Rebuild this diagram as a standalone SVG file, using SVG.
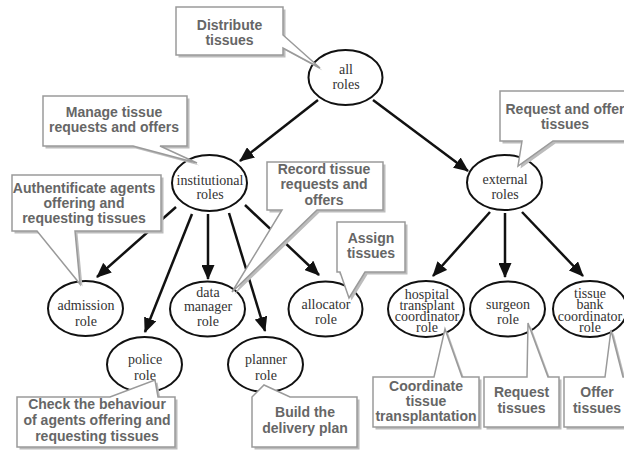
<svg xmlns="http://www.w3.org/2000/svg" xmlns:xlink="http://www.w3.org/1999/xlink" width="624" height="451" viewBox="0 0 624 451">
<style>
.role{fill:#fff;stroke:#111;stroke-width:2}
.rt{font-family:"Liberation Serif","Times New Roman",serif;font-size:14px;fill:#333;text-anchor:middle}
.edge{stroke:#111;stroke-width:2.5;fill:none;marker-end:url(#ah)}
.box{fill:#fff;stroke:#9a9a9a;stroke-width:1.5;stroke-linejoin:miter}
.sh{fill:#bcbcbc;stroke:none}
.ct{font-family:"Liberation Sans",Arial,sans-serif;font-weight:bold;font-size:14px;fill:#666;text-anchor:middle}
</style>
<defs>
<marker id="ah" markerUnits="userSpaceOnUse" markerWidth="15" markerHeight="13" refX="14" refY="6.5" orient="auto">
<path d="M0,0 L15,6.5 L0,13 Z" fill="#111"/>
</marker>
<path id="p_dist" d="M176,7 H283 V35 L320,68 L283,48 V55 H176 Z"/>
<path id="p_manage" d="M43,96 H187 V146 H160 L197,163 L133,146 H43 Z"/>
<path id="p_auth" d="M12,175 H161 V231 H75 L80,284 L37,231 H12 Z"/>
<path id="p_record" d="M267,162 H383 V210 H317 L232,292 L282,210 H267 Z"/>
<path id="p_assign" d="M337,222 H405 V272 H365 L349,298 L340,272 H337 Z"/>
<path id="p_reqoff" d="M500,91 H632 V141 H553 L518,166 L522,141 H500 Z"/>
<path id="p_check" d="M17,397 H110 L155,380 L158,397 H175 V447 H17 Z"/>
<path id="p_build" d="M252,397 L264,385 L290,397 H357 V447 H252 Z"/>
<path id="p_coord" d="M373,377 H434 L445,329 L462,377 H479 V427 H373 Z"/>
<path id="p_request" d="M484,377 H527 L528,323 L548,377 H559 V427 H484 Z"/>
<path id="p_offer" d="M564,377 H605 L611,330 L623,377 H632 V427 H564 Z"/>
</defs>
<rect width="624" height="451" fill="#fff"/>

<g id="connectors">
<line class="edge" x1="318" y1="100" x2="240" y2="161"/>
<line class="edge" x1="373" y1="100" x2="468" y2="171"/>
<line class="edge" x1="176" y1="207" x2="97" y2="277"/>
<line class="edge" x1="192" y1="214" x2="145" y2="332"/>
<line class="edge" x1="208" y1="214" x2="208" y2="279"/>
<line class="edge" x1="229" y1="213" x2="265" y2="331"/>
<line class="edge" x1="245" y1="205" x2="319" y2="275"/>
<line class="edge" x1="490" y1="212" x2="433" y2="276"/>
<line class="edge" x1="505" y1="213" x2="505" y2="277"/>
<line class="edge" x1="522" y1="212" x2="583" y2="276"/>
</g>

<g id="all-roles"><ellipse class="role" cx="345.5" cy="77.5" rx="37" ry="27.5"/><text class="rt" x="346" y="74">all</text><text class="rt" x="346" y="89">roles</text></g>
<g id="institutional-roles"><ellipse class="role" cx="209.5" cy="183" rx="37.5" ry="28"/><text class="rt" x="210" y="185">institutional</text><text class="rt" x="210" y="199">roles</text></g>
<g id="external-roles"><ellipse class="role" cx="504.5" cy="182.5" rx="37.5" ry="27.5"/><text class="rt" x="505" y="184">external</text><text class="rt" x="505" y="199">roles</text></g>
<g id="admission-role"><ellipse class="role" cx="85.5" cy="308.5" rx="37.5" ry="27.5"/><text class="rt" x="86" y="310">admission</text><text class="rt" x="86" y="326">role</text></g>
<g id="data-manager-role"><ellipse class="role" cx="207.5" cy="309" rx="37.5" ry="27.5"/><text class="rt" x="208" y="297">data</text><text class="rt" x="208" y="311">manager</text><text class="rt" x="208" y="326">role</text></g>
<g id="allocator-role"><ellipse class="role" cx="325.5" cy="309" rx="37" ry="27.5"/><text class="rt" x="326" y="309">allocator</text><text class="rt" x="326" y="324">role</text></g>
<g id="police-role"><ellipse class="role" cx="144.5" cy="364.5" rx="37.5" ry="27.5"/><text class="rt" x="145" y="364">police</text><text class="rt" x="145" y="380">role</text></g>
<g id="planner-role"><ellipse class="role" cx="265.5" cy="364.5" rx="37.5" ry="27.5"/><text class="rt" x="266" y="364">planner</text><text class="rt" x="266" y="380">role</text></g>
<g id="hospital-transplant-coordinator-role"><ellipse class="role" cx="426" cy="309" rx="38" ry="28"/><text class="rt" x="427" y="299">hospital</text><text class="rt" x="427" y="310">transplant</text><text class="rt" x="427" y="321">coordinator</text><text class="rt" x="427" y="332">role</text></g>
<g id="surgeon-role"><ellipse class="role" cx="507.5" cy="309" rx="37.5" ry="27.5"/><text class="rt" x="508" y="309">surgeon</text><text class="rt" x="508" y="324">role</text></g>
<g id="tissue-bank-coordinator-role"><ellipse class="role" cx="590" cy="309" rx="37" ry="28"/><text class="rt" x="590" y="298">tissue</text><text class="rt" x="590" y="309">bank</text><text class="rt" x="590" y="321">coordinator</text><text class="rt" x="590" y="332">role</text></g>

<g id="note-distribute"><use xlink:href="#p_dist" class="sh" transform="translate(2.5,2.5)"/><use xlink:href="#p_dist" class="box"/><text class="ct" x="229.5" y="29.5">Distribute</text><text class="ct" x="229.5" y="45">tissues</text></g>
<g id="note-manage"><use xlink:href="#p_manage" class="sh" transform="translate(2.5,2.5)"/><use xlink:href="#p_manage" class="box"/><text class="ct" x="114" y="117">Manage tissue</text><text class="ct" x="114" y="132">requests and offers</text></g>
<g id="note-authentificate"><use xlink:href="#p_auth" class="sh" transform="translate(2.5,2.5)"/><use xlink:href="#p_auth" class="box"/><text class="ct" x="84" y="193">Authentificate agents</text><text class="ct" x="84" y="208">offering and</text><text class="ct" x="84" y="223">requesting tissues</text></g>
<g id="note-record"><use xlink:href="#p_record" class="sh" transform="translate(2.5,2.5)"/><use xlink:href="#p_record" class="box"/><text class="ct" x="324" y="174">Record tissue</text><text class="ct" x="324" y="189">requests and</text><text class="ct" x="324" y="205">offers</text></g>
<g id="note-assign"><use xlink:href="#p_assign" class="sh" transform="translate(2.5,2.5)"/><use xlink:href="#p_assign" class="box"/><text class="ct" x="371" y="243">Assign</text><text class="ct" x="371" y="258">tissues</text></g>
<g id="note-request-offer"><use xlink:href="#p_reqoff" class="sh" transform="translate(2.5,2.5)"/><use xlink:href="#p_reqoff" class="box"/><text class="ct" x="565" y="114">Request and offer</text><text class="ct" x="565" y="129">tissues</text></g>
<g id="note-check"><use xlink:href="#p_check" class="sh" transform="translate(2.5,2.5)"/><use xlink:href="#p_check" class="box"/><text class="ct" x="97" y="409">Check the behaviour</text><text class="ct" x="97" y="425">of agents offering and</text><text class="ct" x="97" y="441">requesting tissues</text></g>
<g id="note-build"><use xlink:href="#p_build" class="sh" transform="translate(2.5,2.5)"/><use xlink:href="#p_build" class="box"/><text class="ct" x="305" y="417">Build the</text><text class="ct" x="305" y="433">delivery plan</text></g>
<g id="note-coordinate"><use xlink:href="#p_coord" class="sh" transform="translate(2.5,2.5)"/><use xlink:href="#p_coord" class="box"/><text class="ct" x="426" y="391">Coordinate</text><text class="ct" x="426" y="406">tissue</text><text class="ct" x="426" y="421">transplantation</text></g>
<g id="note-request"><use xlink:href="#p_request" class="sh" transform="translate(2.5,2.5)"/><use xlink:href="#p_request" class="box"/><text class="ct" x="521.5" y="397">Request</text><text class="ct" x="521.5" y="413">tissues</text></g>
<g id="note-offer"><use xlink:href="#p_offer" class="sh" transform="translate(2.5,2.5)"/><use xlink:href="#p_offer" class="box"/><text class="ct" x="597" y="397">Offer</text><text class="ct" x="597" y="413">tissues</text></g>
</svg>
